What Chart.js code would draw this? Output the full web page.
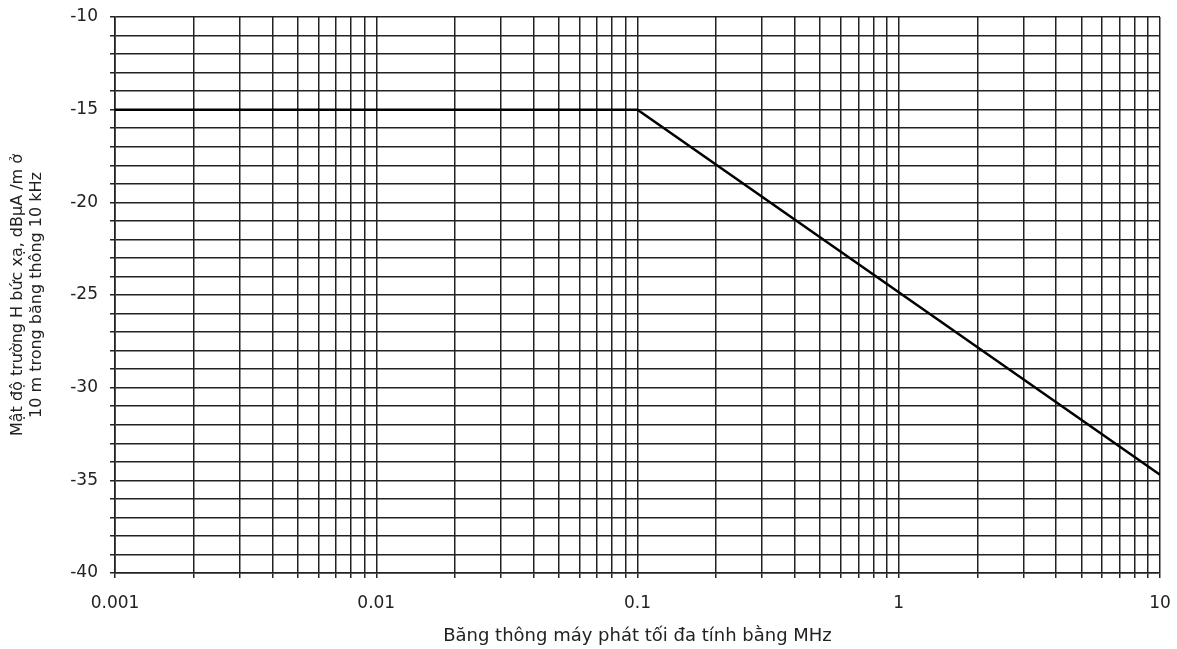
<!DOCTYPE html>
<html>
<head>
<meta charset="utf-8">
<script src="https://cdn.jsdelivr.net/npm/chart.js@4"></script>
<style>
  html, body { margin: 0; padding: 0; background: #fff; }
  #wrap { width: 1177px; height: 649px; }
</style>
</head>
<body>
<div id="wrap"><canvas id="c" width="1177" height="649"></canvas></div>
<script>
// Data
const bandwidthMHz = [0.001, 0.1, 10];
const fieldStrength = [-15, -15, -34.7];
const xMajorTicks = [0.001, 0.01, 0.1, 1, 10];
const xTickLabels = ['0.001', '0.01', '0.1', '1', '10'];
const yTickLabels = [-40, -35, -30, -25, -20, -15, -10];
const xTitle = 'Băng thông máy phát tối đa tính bằng MHz';
const yTitle = ['Mật độ trường H bức xạ, dBµA /m ở', '10 m trong băng thông 10 kHz'];

const points = bandwidthMHz.map((x, i) => ({ x: x, y: fieldStrength[i] }));

// all gridline positions on the log axis: 1..9 x each decade
const xGridValues = [];
xMajorTicks.forEach((d, i) => {
  if (i === xMajorTicks.length - 1) { xGridValues.push(d); return; }
  for (let m = 1; m <= 9; m++) xGridValues.push(parseFloat((m * d).toPrecision(6)));
});

const FONT = "'DejaVu Sans', 'Liberation Sans', Arial, sans-serif";
const GRID = '#222';

new Chart(document.getElementById('c'), {
  type: 'line',
  data: {
    datasets: [{
      data: points,
      borderColor: '#000',
      borderWidth: 2.5,
      pointRadius: 0,
      fill: false,
      tension: 0
    }]
  },
  options: {
    responsive: false,
    animation: false,
    layout: { padding: { left: 0, right: 17, top: 17, bottom: 0 } },
    plugins: { legend: { display: false }, tooltip: { enabled: false } },
    scales: {
      x: {
        type: 'logarithmic',
        min: 0.001,
        max: 10,
        afterBuildTicks: (s) => { s.ticks = xGridValues.map(v => ({ value: v })); },
        afterFit: (s) => { s.height = 76; s.paddingLeft = 0; s.paddingRight = 0; },
        border: { color: GRID, width: 1.6 },
        grid: { color: GRID, lineWidth: 1.5, tickLength: 5, drawTicks: true },
        ticks: {
          autoSkip: false,
          maxRotation: 0,
          minRotation: 0,
          padding: 15,
          color: '#222',
          font: { family: FONT, size: 17 },
          callback: (v) => {
            const idx = xMajorTicks.findIndex(m => Math.abs(m - v) / m < 1e-6);
            return idx >= 0 ? xTickLabels[idx] : '';
          }
        },
        title: {
          display: true,
          text: xTitle,
          color: '#222',
          font: { family: FONT, size: 18 },
          padding: { top: 0, bottom: 2 }
        }
      },
      y: {
        min: -40,
        max: -10,
        afterFit: (s) => { s.width = 115; s.paddingTop = 0; s.paddingBottom = 0; },
        border: { color: GRID, width: 1.6 },
        grid: { color: GRID, lineWidth: 1.5, tickLength: 5 },
        ticks: {
          stepSize: 1,
          autoSkip: false,
          padding: 12,
          color: '#222',
          font: { family: FONT, size: 17 },
          callback: (v) => yTickLabels.includes(v) ? String(v) : ''
        },
        title: {
          display: true,
          text: yTitle,
          color: '#222',
          font: { family: FONT, size: 16, lineHeight: '19px' },
          padding: { top: 8, bottom: 0 }
        }
      }
    }
  }
});
</script>
</body>
</html>
